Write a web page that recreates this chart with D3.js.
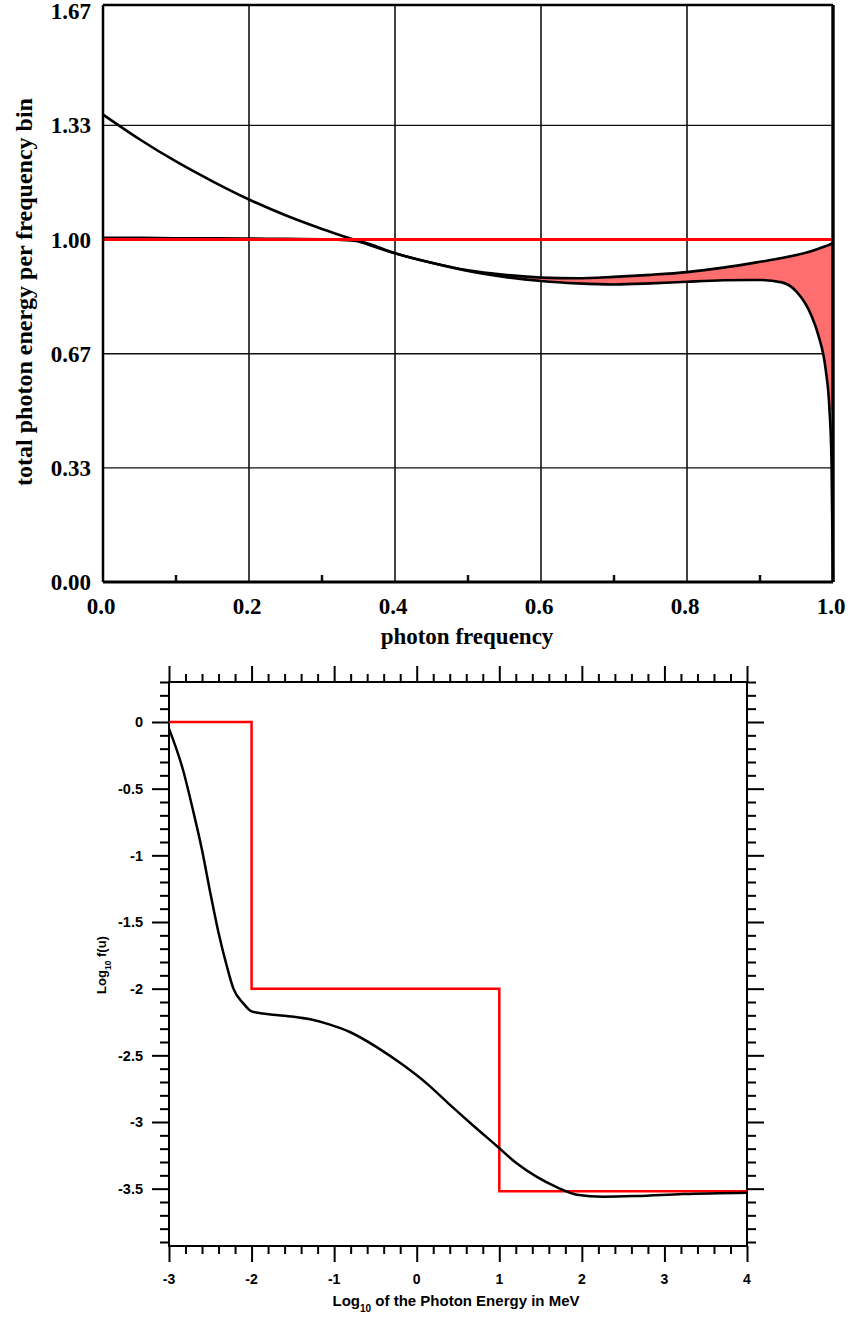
<!DOCTYPE html>
<html>
<head>
<meta charset="utf-8">
<script src="https://cdn.jsdelivr.net/npm/d3@7"></script>
<style>
  html, body { margin: 0; padding: 0; background: #fff; }
  svg { display: block; }
</style>
</head>
<body>
<svg id="chart" width="852" height="1318"></svg>
<script>
// ---------- Top chart data ----------
const topX = [0, 0.05, 0.1, 0.15, 0.2, 0.25, 0.3, 0.35, 0.4, 0.45, 0.5, 0.55, 0.6, 0.65, 0.7, 0.75, 0.8, 0.85, 0.9, 0.93, 0.95, 0.97, 0.98, 0.99, 0.995, 0.998, 1.0];
const topUpper = [1.365, 1.293, 1.228, 1.170, 1.117, 1.071, 1.031, 0.995, 0.960, 0.932, 0.910, 0.897, 0.889, 0.887, 0.891, 0.897, 0.905, 0.918, 0.935, 0.946, 0.955, 0.966, 0.973, 0.981, 0.985, 0.988, 0.99];
const topLower = [1.005, 1.005, 1.004, 1.004, 1.003, 1.002, 1.001, 0.995, 0.960, 0.932, 0.908, 0.891, 0.879, 0.872, 0.869, 0.872, 0.877, 0.881, 0.882, 0.875, 0.848, 0.78, 0.72, 0.62, 0.51, 0.35, 0.0];
const topRefX = [0, 1];
const topRefY = [1, 1];
const topFillStart = 0.55;
const topFillFloor = 0.5;
const topXTicks = [0, 0.2, 0.4, 0.6, 0.8, 1.0];
const topXMinor = [0.1, 0.3, 0.5, 0.7, 0.9];
const topYTicks = [0, 1/3, 2/3, 1, 4/3, 5/3];
const topYLabels = ["0.00", "0.33", "0.67", "1.00", "1.33", "1.67"];
const topXTitle = "photon frequency";
const topYTitle = "total photon energy per frequency bin";

// ---------- Bottom chart data ----------
const botX = [-3.0, -2.83, -2.71, -2.60, -2.50, -2.40, -2.30, -2.22, -2.10, -2.00, -1.82, -1.49, -1.29, -1.05, -0.81, -0.48, -0.16, 0.12, 0.40, 0.69, 0.97, 1.21, 1.45, 1.70, 1.94, 2.26, 2.66, 3.23, 4.0];
const botY = [-0.05, -0.36, -0.66, -0.96, -1.28, -1.58, -1.83, -2.00, -2.11, -2.17, -2.19, -2.21, -2.23, -2.27, -2.325, -2.44, -2.575, -2.71, -2.87, -3.03, -3.18, -3.31, -3.41, -3.49, -3.545, -3.56, -3.555, -3.54, -3.53];
const stepX = [-3, -2, 1, 4];
const stepY = [0, -2, -3.52, -3.52];
const botXTicks = [-3, -2, -1, 0, 1, 2, 3, 4];
const botYTicks = [0, -0.5, -1, -1.5, -2, -2.5, -3, -3.5];
const botYLabels = ["0", "-0.5", "-1", "-1.5", "-2", "-2.5", "-3", "-3.5"];

const svg = d3.select("#chart");

// ================= TOP CHART =================
(function () {
  const serif = "'Liberation Serif', 'Times New Roman', serif";
  const x = d3.scaleLinear().domain([0, 1]).range([103, 833]);
  const y = d3.scaleLinear().domain([0, 1.685]).range([582, 5]);
  const g = svg.append("g");

  // grid lines
  g.selectAll(".vg").data(topXTicks.slice(1, -1)).enter().append("line")
    .attr("x1", d => x(d)).attr("x2", d => x(d))
    .attr("y1", y.range()[1]).attr("y2", y.range()[0])
    .attr("stroke", "#111").attr("stroke-width", 1.6);
  g.selectAll(".hg").data(topYTicks.slice(1, -1)).enter().append("line")
    .attr("x1", x(0)).attr("x2", x(1))
    .attr("y1", d => y(d)).attr("y2", d => y(d))
    .attr("stroke", "#111").attr("stroke-width", 1.4);

  // minor ticks on bottom axis
  g.selectAll(".mt").data(topXMinor).enter().append("line")
    .attr("x1", d => x(d)).attr("x2", d => x(d))
    .attr("y1", y(0)).attr("y2", y(0) - 7)
    .attr("stroke", "#111").attr("stroke-width", 2.5);

  // fill between curves
  const fillData = topX.map((v, i) => ({x: v, u: topUpper[i], l: Math.max(topLower[i], topFillFloor)}))
    .filter(d => d.x >= topFillStart);
  g.append("path").datum(fillData)
    .attr("d", d3.area().x(d => x(d.x)).y0(d => y(d.l)).y1(d => y(d.u)).curve(d3.curveMonotoneX))
    .attr("fill", "#ff6e6e").attr("stroke", "none");

  const line = d3.line().x(d => x(d[0])).y(d => y(d[1])).curve(d3.curveMonotoneX);
  g.append("path").datum(topX.map((v, i) => [v, topUpper[i]]))
    .attr("d", line).attr("fill", "none").attr("stroke", "#000").attr("stroke-width", 2.6);
  g.append("path").datum(topX.map((v, i) => [v, topLower[i]]))
    .attr("d", line).attr("fill", "none").attr("stroke", "#000").attr("stroke-width", 2.6);
  g.append("path").datum(topRefX.map((v, i) => [v, topRefY[i]]))
    .attr("d", d3.line().x(d => x(d[0])).y(d => y(d[1])))
    .attr("fill", "none").attr("stroke", "#ff0000").attr("stroke-width", 3);

  // frame
  g.append("line").attr("x1", x(0)).attr("x2", x(0)).attr("y1", y.range()[1]).attr("y2", y(0))
    .attr("stroke", "#000").attr("stroke-width", 2.5);
  g.append("line").attr("x1", x(0)).attr("x2", x(1)).attr("y1", y(0)).attr("y2", y(0))
    .attr("stroke", "#000").attr("stroke-width", 2.8);
  g.append("line").attr("x1", x(0)).attr("x2", x(1)).attr("y1", y.range()[1]).attr("y2", y.range()[1])
    .attr("stroke", "#000").attr("stroke-width", 2.5);
  g.append("line").attr("x1", x(1)).attr("x2", x(1)).attr("y1", y.range()[1]).attr("y2", y(0))
    .attr("stroke", "#000").attr("stroke-width", 3.4);

  // tick labels
  g.selectAll(".xl").data(topXTicks).enter().append("text")
    .attr("x", d => x(d) - 2).attr("y", 614)
    .attr("text-anchor", "middle")
    .attr("font-family", serif).attr("font-weight", "bold").attr("font-size", 23)
    .text(d => d.toFixed(1));
  g.selectAll(".yl").data(topYTicks).enter().append("text")
    .attr("x", 91).attr("y", d => y(d))
    .attr("dy", "0.35em")
    .attr("text-anchor", "end")
    .attr("font-family", serif).attr("font-weight", "bold").attr("font-size", 23)
    .text((d, i) => topYLabels[i]);

  g.append("text").attr("x", 467).attr("y", 644)
    .attr("text-anchor", "middle")
    .attr("font-family", serif).attr("font-weight", "bold").attr("font-size", 23)
    .text(topXTitle);
  g.append("text")
    .attr("transform", "translate(32,292) rotate(-90)")
    .attr("text-anchor", "middle")
    .attr("font-family", serif).attr("font-weight", "bold").attr("font-size", 24)
    .text(topYTitle);
})();

// ================= BOTTOM CHART =================
(function () {
  const sans = "'Liberation Sans', Arial, Helvetica, sans-serif";
  const x = d3.scaleLinear().domain([-3, 4]).range([169, 747]);
  const y = d3.scaleLinear().domain([-3.93, 0.3]).range([1246, 682]);
  const g = svg.append("g");

  const xMinor = d3.range(-3, 4.0001, 0.2).map(v => +v.toFixed(2)).filter(v => Math.abs(v - Math.round(v)) > 1e-6);
  const yMinor = d3.range(-39, 4).map(v => v / 10).filter(v => Math.abs(v * 2 - Math.round(v * 2)) > 1e-6);

  const tickG = (sel, axis) => sel.call(axis).call(s => {
    s.select(".domain").remove();
    s.selectAll("line").attr("stroke", "#000").attr("stroke-width", 2);
  });

  // major ticks
  tickG(g.append("g").attr("transform", `translate(0,${y.range()[0]})`),
    d3.axisBottom(x).tickValues(botXTicks).tickSize(16).tickFormat(""));
  tickG(g.append("g").attr("transform", `translate(0,${y.range()[1]})`),
    d3.axisTop(x).tickValues(botXTicks).tickSize(16).tickFormat(""));
  tickG(g.append("g").attr("transform", `translate(${x.range()[0]},0)`),
    d3.axisLeft(y).tickValues(botYTicks).tickSize(17).tickFormat(""));
  tickG(g.append("g").attr("transform", `translate(${x.range()[1]},0)`),
    d3.axisRight(y).tickValues(botYTicks).tickSize(17).tickFormat(""));
  // minor ticks
  tickG(g.append("g").attr("transform", `translate(0,${y.range()[0]})`),
    d3.axisBottom(x).tickValues(xMinor).tickSize(8).tickFormat(""));
  tickG(g.append("g").attr("transform", `translate(0,${y.range()[1]})`),
    d3.axisTop(x).tickValues(xMinor).tickSize(8).tickFormat(""));
  tickG(g.append("g").attr("transform", `translate(${x.range()[0]},0)`),
    d3.axisLeft(y).tickValues(yMinor).tickSize(9).tickFormat(""));
  tickG(g.append("g").attr("transform", `translate(${x.range()[1]},0)`),
    d3.axisRight(y).tickValues(yMinor).tickSize(9).tickFormat(""));

  // frame
  g.append("rect").attr("x", x.range()[0]).attr("y", y.range()[1])
    .attr("width", x.range()[1] - x.range()[0]).attr("height", y.range()[0] - y.range()[1])
    .attr("fill", "none").attr("stroke", "#000").attr("stroke-width", 2);

  // curves
  g.append("path").datum(stepX.map((v, i) => [v, stepY[i]]))
    .attr("d", d3.line().x(d => x(d[0])).y(d => y(d[1])).curve(d3.curveStepAfter))
    .attr("fill", "none").attr("stroke", "#ff0000").attr("stroke-width", 2.5);
  g.append("path").datum(botX.map((v, i) => [v, botY[i]]))
    .attr("d", d3.line().x(d => x(d[0])).y(d => y(d[1])).curve(d3.curveMonotoneX))
    .attr("fill", "none").attr("stroke", "#000").attr("stroke-width", 2.5);

  // labels
  g.selectAll(".xl").data(botXTicks).enter().append("text")
    .attr("x", d => x(d)).attr("y", 1283.5)
    .attr("text-anchor", "middle")
    .attr("font-family", sans).attr("font-weight", "bold").attr("font-size", 14)
    .text(d => d);
  g.selectAll(".yl").data(botYTicks).enter().append("text")
    .attr("x", 143).attr("y", d => y(d)).attr("dy", "0.36em")
    .attr("text-anchor", "end")
    .attr("font-family", sans).attr("font-weight", "bold").attr("font-size", 14.5)
    .text((d, i) => botYLabels[i]);

  const xt = g.append("text").attr("x", 456).attr("y", 1306)
    .attr("text-anchor", "middle")
    .attr("font-family", sans).attr("font-weight", "bold").attr("font-size", 15);
  xt.append("tspan").text("Log");
  xt.append("tspan").attr("font-size", 10).attr("dy", 6).text("10");
  xt.append("tspan").attr("dy", -6).text(" of the Photon Energy in MeV");

  const yt = g.append("text").attr("transform", "translate(106,965) rotate(-90)")
    .attr("text-anchor", "middle")
    .attr("font-family", sans).attr("font-weight", "bold").attr("font-size", 13);
  yt.append("tspan").text("Log");
  yt.append("tspan").attr("font-size", 8.5).attr("dy", 5).text("10");
  yt.append("tspan").attr("dy", -5).text(" f(u)");
})();
</script>
</body>
</html>
